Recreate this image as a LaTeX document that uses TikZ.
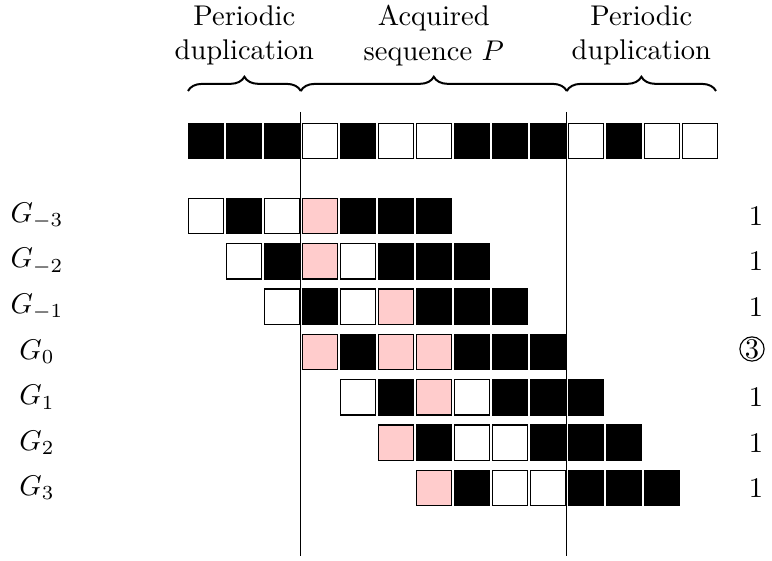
\documentclass[tikz,border=0pt]{standalone}
\usetikzlibrary{decorations.pathreplacing}
\begin{document}
\begin{tikzpicture}[x=0.3509pt,y=-0.3509pt,
  cell/.style={draw, minimum size=12.4pt, inner sep=0pt, outer sep=0pt},
  bk/.style={cell, fill=black},
  wh/.style={cell, fill=white},
  pk/.style={cell, fill=red!20},
  brc/.style={decorate, decoration={brace, amplitude=5pt}, line width=0.7pt},
  head/.style={align=center, inner sep=0pt},
  sep/.style={line width=0.4pt},
  glab/.style={inner sep=0pt},
  cnt/.style={inner sep=0pt},
  circ/.style={draw, circle, inner sep=0pt, line width=0.4pt}]
\useasboundingbox (0,0) rectangle (772,561);
% top sequence
\foreach \c [count=\i from 0] in {bk,bk,bk,wh,bk,wh,wh,bk,bk,bk,wh,bk,wh,wh}
  \node[\c] (t\i) at ({205.8+38*\i},141) {};
% braces
\coordinate (b0) at (188,91);
\coordinate (b1) at (300.8,91);
\coordinate (b2) at (566.8,91);
\coordinate (b3) at (716,91);
\draw[brc] (b0) -- (b1);
\draw[brc] (b1) -- (b2);
\draw[brc] (b2) -- (b3);
\node[head] (h1) at (244.4,35.5) {Periodic\\duplication};
\node[head] (h2) at (433.8,35.5) {Acquired\\sequence $P$};
\node[head] (h3) at (641.4,35.5) {Periodic\\duplication};
% separator lines
\coordinate (l1a) at (300.8,112);
\coordinate (l1b) at (300.8,556);
\coordinate (l2a) at (566.8,112);
\coordinate (l2b) at (566.8,556);
\draw[sep] (l1a) -- (l1b);
\draw[sep] (l2a) -- (l2b);
% rows
\foreach \r/\lab/\pat in {
  0/{-3}/{wh,bk,wh,pk,bk,bk,bk},
  1/{-2}/{wh,bk,pk,wh,bk,bk,bk},
  2/{-1}/{wh,bk,wh,pk,bk,bk,bk},
  3/{0}/{pk,bk,pk,pk,bk,bk,bk},
  4/{1}/{wh,bk,pk,wh,bk,bk,bk},
  5/{2}/{pk,bk,wh,wh,bk,bk,bk},
  6/{3}/{pk,bk,wh,wh,bk,bk,bk}} {
  \foreach \c [count=\j from 0] in \pat
    \node[\c] (c\r-\j) at ({205.8+38*(\r+\j)},{216+45.33*\r}) {};
  \node[glab] (g\r) at (37,{216+45.33*\r}) {$G_{\lab}$};
}
\foreach \r in {0,1,2,4,5,6}
  \node[cnt] (n\r) at (756,{216+45.33*\r}) {1};
\node[circ] (n3) at (752,349) {3};
\end{tikzpicture}
\end{document}
